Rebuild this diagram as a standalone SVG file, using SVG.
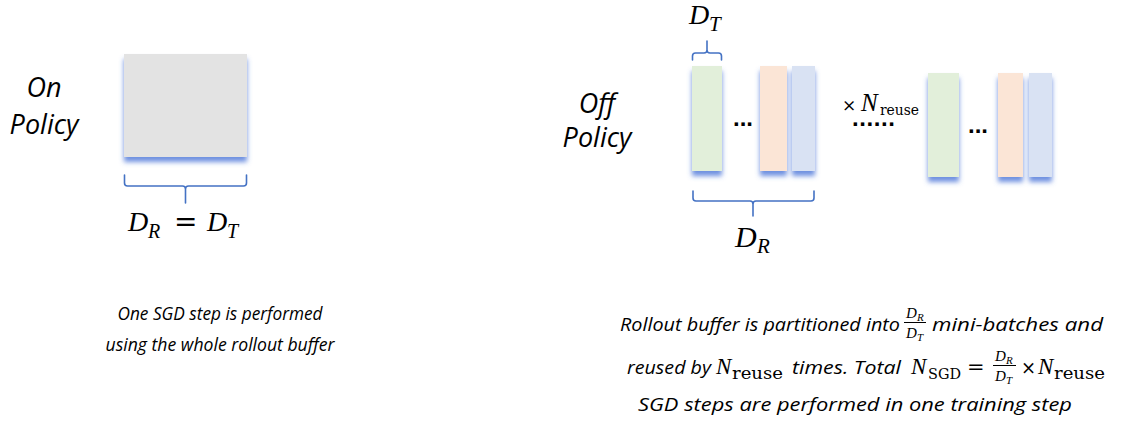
<svg xmlns="http://www.w3.org/2000/svg" width="1123" height="422" viewBox="0 0 1123 422">
<defs>
<style>
.lbl{font-family:"Open Sans","Liberation Sans",sans-serif;font-style:italic;fill:#000}
.big{font-size:27px;text-anchor:middle}
.capl{font-size:17.5px}
.cap{font-size:19px}
.mi{font-family:"Liberation Serif","DejaVu Serif",serif;font-style:italic;fill:#000}
.mr{font-family:"DejaVu Serif","Liberation Serif",serif;font-style:normal}
.dots{font-family:"Liberation Sans",sans-serif;font-weight:bold;font-size:24px;fill:#000}
.br{fill:none;stroke:#4472c4;stroke-width:1.6;stroke-linecap:round;stroke-linejoin:round}
.fb{stroke:#000;stroke-width:1}
.gray{fill:#e3e3e3}.green{fill:#e2efda}.orange{fill:#fbe5d6}.blue{fill:#d9e2f3}
</style>
<filter id="sh" x="-40%" y="-20%" width="180%" height="150%">
<feGaussianBlur in="SourceAlpha" stdDeviation="2.6"/>
<feOffset dy="5" result="b"/>
<feFlood flood-color="#4a74d8" flood-opacity="0.8"/>
<feComposite in2="b" operator="in"/>
<feMerge><feMergeNode/><feMergeNode in="SourceGraphic"/></feMerge>
</filter>
</defs>
<rect width="1123" height="422" fill="#fff"/>

<g id="on-policy">
<text class="lbl big" x="44" y="97">On</text>
<text class="lbl big" x="44" y="134">Policy</text>
<rect class="gray" x="124" y="54" width="123" height="103" filter="url(#sh)"/>
<text class="mi" y="231" font-size="28"><tspan x="128">D</tspan><tspan x="148" y="238" font-size="20">R</tspan><tspan class="mr" x="174" y="231">=</tspan><tspan x="207">D</tspan><tspan x="227" y="238" font-size="20">T</tspan></text>
<text class="lbl capl" x="220" y="320" text-anchor="middle" textLength="205" lengthAdjust="spacingAndGlyphs">One SGD step is performed</text>
<text class="lbl capl" x="220" y="351" text-anchor="middle" textLength="229" lengthAdjust="spacingAndGlyphs">using the whole rollout buffer</text>
</g>

<g id="off-policy">
<text class="lbl big" x="597" y="113">Off</text>
<text class="lbl big" x="597" y="147">Policy</text>
<g filter="url(#sh)">
<rect class="green" x="692" y="66" width="30" height="105"/>
<rect class="orange" x="760" y="66" width="27" height="105"/>
<rect class="blue" x="792" y="66" width="23" height="105"/>
</g>
<text class="dots" x="733" y="126">...</text>
<text class="mi" font-size="28"><tspan x="689" y="24">D</tspan><tspan x="709" y="31" font-size="21">T</tspan></text>
<text class="mi" font-size="30"><tspan x="735" y="247">D</tspan><tspan x="757" y="253" font-size="21">R</tspan></text>
<text class="mi" font-size="25"><tspan class="mr" x="842" y="111" font-size="17">×</tspan><tspan x="861" y="111">N</tspan><tspan class="mr" x="880" y="115" font-size="15.5" textLength="39" lengthAdjust="spacingAndGlyphs">reuse</tspan></text>
<text class="dots" x="852" y="126" letter-spacing="0.6">......</text>
<g filter="url(#sh)">
<rect class="green" x="928" y="73" width="31" height="104"/>
<rect class="orange" x="998" y="73" width="25" height="104"/>
<rect class="blue" x="1029" y="73" width="23" height="104"/>
</g>
<text class="dots" x="968" y="133">...</text>
</g>

<g id="brackets">
<path class="br" d="M124.5 175 V183 Q124.5 186 127.5 186 H182.5 Q185.5 186 185.5 189 V203 M185.5 189 Q185.5 186 188.5 186 H243.5 Q246.5 186 246.5 183 V175"/>
<path class="br" d="M692.5 60 V56 Q692.5 53 695.5 53 H704 Q707 53 707 50 V41 M707 50 Q707 53 710 53 H718.5 Q721.5 53 721.5 56 V60"/>
<path class="br" d="M693 191 V198 Q693 201 696 201 H750 Q753 201 753 204 V216 M753 204 Q753 201 756 201 H811 Q814 201 814 198 V191"/>
</g>

<g id="off-policy-caption">
<text class="lbl cap" x="620" y="331" textLength="280" lengthAdjust="spacingAndGlyphs">Rollout buffer is partitioned into</text>
<text class="mi" font-size="15"><tspan x="906" y="318">D</tspan><tspan x="917" y="321" font-size="11">R</tspan></text>
<line class="fb" x1="904" y1="322.5" x2="926" y2="322.5"/>
<text class="mi" font-size="15"><tspan x="906" y="338">D</tspan><tspan x="917" y="341" font-size="11">T</tspan></text>
<text class="lbl cap" x="932" y="331" textLength="171" lengthAdjust="spacingAndGlyphs">mini-batches and</text>

<text class="lbl cap" x="627" y="374" textLength="84" lengthAdjust="spacingAndGlyphs">reused by</text>
<text class="mi" font-size="23"><tspan x="716" y="374">N</tspan><tspan class="mr" x="732" y="379" font-size="17" textLength="51" lengthAdjust="spacingAndGlyphs">reuse</tspan></text>
<text class="lbl cap" x="792" y="374" textLength="109" lengthAdjust="spacingAndGlyphs">times. Total</text>
<text class="mi" font-size="23"><tspan x="911" y="374">N</tspan><tspan class="mr" x="928" y="379" font-size="15" textLength="33" lengthAdjust="spacingAndGlyphs">SGD</tspan><tspan class="mr" x="967" y="374" font-size="21">=</tspan></text>
<text class="mi" font-size="15"><tspan x="995" y="361">D</tspan><tspan x="1006" y="364" font-size="11">R</tspan></text>
<line class="fb" x1="993" y1="365.5" x2="1016" y2="365.5"/>
<text class="mi" font-size="15"><tspan x="995" y="381">D</tspan><tspan x="1006" y="384" font-size="11">T</tspan></text>
<text class="mi" font-size="23"><tspan class="mr" x="1021" y="374" font-size="18">×</tspan><tspan x="1038" y="374">N</tspan><tspan class="mr" x="1054" y="379" font-size="17" textLength="51" lengthAdjust="spacingAndGlyphs">reuse</tspan></text>

<text class="lbl cap" x="638" y="411" textLength="434" lengthAdjust="spacingAndGlyphs">SGD steps are performed in one training step</text>
</g>
</svg>
